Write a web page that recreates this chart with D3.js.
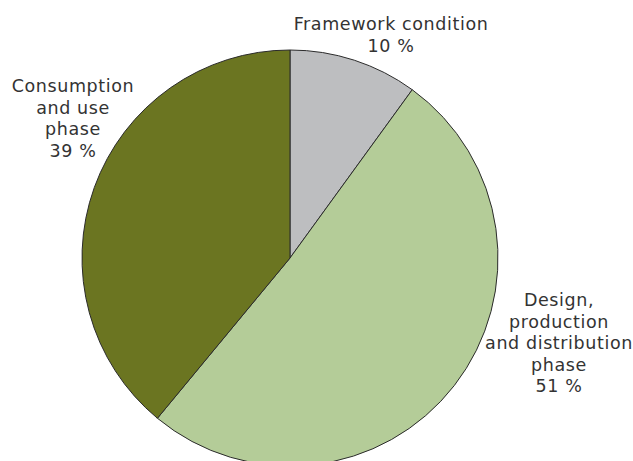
<!DOCTYPE html>
<html>
<head>
<meta charset="utf-8">
<script src="https://cdn.jsdelivr.net/npm/d3@7"></script>
<style>
  body { margin: 0; background: #fff; }
  text { font-family: Verdana, "DejaVu Sans", sans-serif; font-size: 17.5px; letter-spacing: 0.6px; fill: #333; }
</style>
</head>
<body>
<div id="chart"></div>
<script>
// data
const categories = ["Framework condition", "Design, production and distribution phase", "Consumption and use phase"];
const values = [10, 51, 39];
const colors = ["#bdbec0", "#b4cc98", "#6b7521"];
const labelLines = [
  ["Framework condition", "10 %"],
  ["Design,", "production", "and distribution", "phase", "51 %"],
  ["Consumption", "and use", "phase", "39 %"]
];

const width = 633, height = 461;
const cx = 290, cy = 258, radius = 208;

const svg = d3.select("#chart")
  .append("svg")
  .attr("width", width)
  .attr("height", height);

const g = svg.append("g")
  .attr("transform", `translate(${cx}, ${cy})`);

const pie = d3.pie().sort(null).value(d => d);
const arc = d3.arc().innerRadius(0).outerRadius(radius);

g.selectAll("path")
  .data(pie(values))
  .join("path")
  .attr("d", arc)
  .attr("fill", (d, i) => colors[i])
  .attr("stroke", "#2b2b2b")
  .attr("stroke-width", 1);

// label anchors (centre x, first baseline)
const labelPos = [[391, 30], [559, 306], [73, 92]];
const lineH = 21.5;

labelLines.forEach(function (lines, i) {
  const t = svg.append("text")
    .attr("text-anchor", "middle")
    .attr("x", labelPos[i][0])
    .attr("y", labelPos[i][1]);
  lines.forEach(function (l, j) {
    t.append("tspan")
      .attr("x", labelPos[i][0])
      .attr("dy", j === 0 ? 0 : lineH)
      .text(l);
  });
});
</script>
</body>
</html>
